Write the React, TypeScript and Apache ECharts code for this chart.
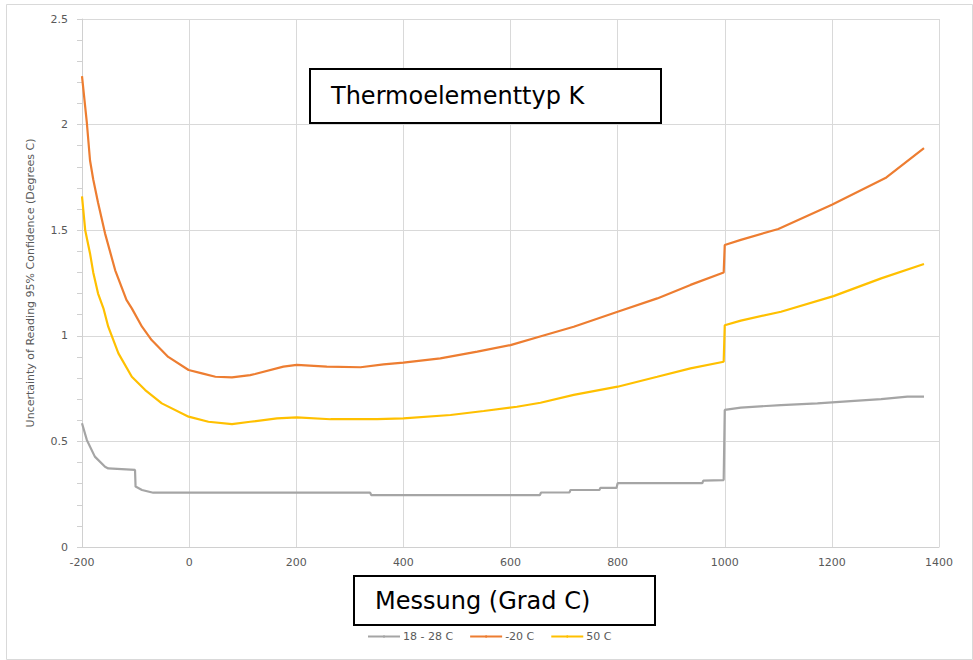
import React, { useEffect, useRef } from "react";
import * as echarts from "echarts";

const xTicks = [-200, 0, 200, 400, 600, 800, 1000, 1200, 1400];
const seriesNames = ["18 - 28 C", "-20 C", "50 C"];

const grayX = [-200, -191, -176, -157, -151, -101, -100, -88, -67, 338, 340, 655, 657, 710, 712, 766, 768, 798, 800, 958, 960, 998, 1000, 1030, 1105, 1173, 1235, 1292, 1341, 1372];
const grayY = [0.586, 0.507, 0.428, 0.38, 0.372, 0.365, 0.286, 0.27, 0.257, 0.257, 0.246, 0.246, 0.258, 0.258, 0.27, 0.27, 0.28, 0.28, 0.302, 0.302, 0.314, 0.317, 0.649, 0.66, 0.672, 0.68, 0.691, 0.7, 0.712, 0.712];

const orangeX = [-200, -191, -185, -179, -170, -157, -138, -117, -107, -88, -70, -39, -1, 24, 49, 80, 114, 123, 176, 201, 257, 320, 363, 400, 469, 538, 600, 660, 718, 800, 874, 936, 998, 1000, 1030, 1100, 1200, 1300, 1372];
const orangeY = [2.23, 2.01, 1.83, 1.74, 1.63, 1.485, 1.31, 1.17, 1.13, 1.043, 0.98, 0.9, 0.838, 0.822, 0.806, 0.803, 0.814, 0.819, 0.854, 0.862, 0.854, 0.851, 0.865, 0.873, 0.893, 0.925, 0.956, 1.0, 1.043, 1.114, 1.177, 1.241, 1.3, 1.43, 1.454, 1.506, 1.62, 1.747, 1.889];

const yellowX = [-200, -194, -185, -179, -170, -160, -151, -132, -107, -82, -51, -1, 36, 80, 114, 164, 201, 264, 351, 400, 488, 550, 612, 656, 718, 800, 874, 936, 998, 1000, 1030, 1105, 1203, 1292, 1372];
const yellowY = [1.66, 1.5, 1.39, 1.3, 1.2, 1.13, 1.043, 0.917, 0.806, 0.743, 0.68, 0.617, 0.593, 0.582, 0.593, 0.609, 0.614, 0.605, 0.605, 0.609, 0.625, 0.644, 0.664, 0.683, 0.72, 0.759, 0.806, 0.846, 0.877, 1.05, 1.072, 1.114, 1.188, 1.272, 1.34];

const colors = ["#A5A5A5", "#ED7D31", "#FFC000"];
const font = "'DejaVu Sans', Verdana, sans-serif";

const zip = (xs: number[], ys: number[]) => xs.map((x, i) => [x, ys[i]]);

export default function App() {
  const ref = useRef<HTMLDivElement>(null);
  useEffect(() => {
    if (!ref.current) return;
    const chart = echarts.init(ref.current, null, { renderer: "svg" });
    const datasets = [zip(grayX, grayY), zip(orangeX, orangeY), zip(yellowX, yellowY)];
    chart.setOption({
      animation: false,
      backgroundColor: "#ffffff",
      grid: { left: 82, right: 34, top: 19, bottom: 113, containLabel: false },
      xAxis: {
        type: "value",
        min: xTicks[0],
        max: xTicks[xTicks.length - 1],
        interval: 200,
        axisLine: { show: true, onZero: false, lineStyle: { color: "#D0D0D0", width: 1 } },
        axisTick: { show: false },
        axisLabel: { color: "#595959", fontSize: 11, fontFamily: font, margin: 10, formatter: (v: number) => String(v) },
        splitLine: { show: true, lineStyle: { color: "#D9D9D9", width: 1 } },
      },
      yAxis: {
        type: "value",
        min: 0,
        max: 2.5,
        interval: 0.5,
        name: "Uncertainty of Reading 95% Confidence (Degrees C)",
        nameLocation: "middle",
        nameGap: 46,
        nameTextStyle: { color: "#595959", fontSize: 11, fontFamily: font },
        axisLine: { show: true, onZero: false, lineStyle: { color: "#D0D0D0", width: 1 } },
        axisTick: { show: true, length: 5, lineStyle: { color: "#D0D0D0" } },
        minorTick: { show: true, splitNumber: 5, length: 5, lineStyle: { color: "#D0D0D0" } },
        axisLabel: { color: "#595959", fontSize: 11, fontFamily: font, margin: 14, formatter: (v: number) => String(v) },
        splitLine: { show: true, lineStyle: { color: "#D9D9D9", width: 1 } },
      },
      legend: {
        left: 362,
        top: 626,
        itemWidth: 32,
        itemHeight: 3,
        itemGap: 16,
        textStyle: { color: "#595959", fontSize: 11, fontFamily: font, padding: [0, 0, 0, -2] },
        data: seriesNames,
      },
      series: seriesNames.map((name, i) => ({
        name,
        type: "line",
        data: datasets[i],
        symbol: "none",
        showSymbol: false,
        lineStyle: { color: colors[i], width: 2.2 },
        itemStyle: { color: colors[i] },
        z: i === 0 ? 3 : 2,
      })),
      graphic: [
        {
          type: "rect",
          left: 4,
          top: 2,
          shape: { x: 0, y: 0, width: 966, height: 655 },
          style: { fill: "none", stroke: "#D9D9D9", lineWidth: 1 },
          z: 0,
        },
        {
          type: "rect",
          shape: { x: 310, y: 69, width: 351, height: 54 },
          style: { fill: "#ffffff", stroke: "#000000", lineWidth: 2 },
          z: 10,
        },
        {
          type: "text",
          x: 331,
          y: 96,
          style: { text: "Thermoelementtyp K", fill: "#000000", font: `24px ${font}`, textVerticalAlign: "middle", verticalAlign: "middle" },
          z: 11,
        },
        {
          type: "rect",
          shape: { x: 354, y: 576, width: 301, height: 49 },
          style: { fill: "#ffffff", stroke: "#000000", lineWidth: 2 },
          z: 10,
        },
        {
          type: "text",
          x: 375,
          y: 601,
          style: { text: "Messung (Grad C)", fill: "#000000", font: `24px ${font}`, textVerticalAlign: "middle", verticalAlign: "middle" },
          z: 11,
        },
      ],
    });
    return () => chart.dispose();
  }, []);
  return <div ref={ref} style={{ position: "absolute", left: 0, top: 0, width: 973, height: 660 }} />;
}
